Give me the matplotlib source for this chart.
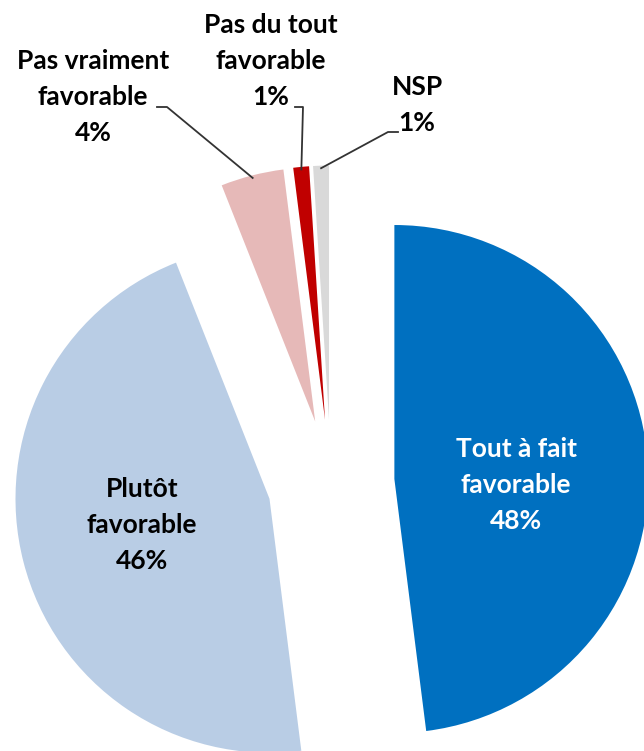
import matplotlib
matplotlib.use("Agg")
import matplotlib.pyplot as plt
import numpy as np

# survey answers, clockwise from 12 o'clock
labels = ["Tout à fait\nfavorable", "Plutôt\nfavorable", "Pas vraiment\nfavorable",
          "Pas du tout\nfavorable", "NSP"]
values = [48, 46, 4, 1, 1]
colors = ["#0070C0", "#B9CDE5", "#E6B9B8", "#C00000", "#D9D9D9"]

W, H = 644, 751
CX, CY, R = 331, 483, 254   # pie centre and radius in pixels (top-left origin)


def to_data(px, py):
    return (px - CX) / R, (CY - py) / R


plt.rcParams['font.family'] = ['Lato', 'DejaVu Sans']

fig = plt.figure(figsize=(W / 100, H / 100), dpi=100)
ax = fig.add_axes([0, 0, 1, 1])

wedges, _ = ax.pie(values, colors=colors, startangle=90, counterclock=False,
                   explode=[0.25] * len(values), radius=1,
                   wedgeprops=dict(linewidth=0))
ax.set_xlim(-CX / R, (W - CX) / R)
ax.set_ylim(-(H - CY) / R, CY / R)
ax.axis('off')


def wedge_point(w, dist):
    mid = np.deg2rad((w.theta1 + w.theta2) / 2)
    return w.center[0] + dist * np.cos(mid), w.center[1] + dist * np.sin(mid)


txt = dict(ha="center", va="center", fontsize=19, fontweight="bold", linespacing=1.6)

# labels inside the two big slices (pixel positions)
inside = {0: ((516, 485), "white"), 1: ((142, 525), "black")}
for i, (pos, col) in inside.items():
    x, y = to_data(*pos)
    ax.text(x, y, f"{labels[i]}\n{values[i]}%", color=col, **txt)

# labels outside for the thin slices, with leader lines
outside = {
    2: ((93, 97), [(157, 107), (167, 107)]),
    3: ((271, 61), [(295, 107), (303, 107)]),
    4: ((417, 105), [(398, 132), (388, 132)]),
}
for i, (pos, elbow) in outside.items():
    x, y = to_data(*pos)
    ax.text(x, y, f"{labels[i]}\n{values[i]}%", color="black", **txt)
    pts = [to_data(*p) for p in elbow] + [wedge_point(wedges[i], 0.99)]
    ax.plot([p[0] for p in pts], [p[1] for p in pts], color="#333333", lw=1.3)

fig.savefig("out.png", dpi=100)
